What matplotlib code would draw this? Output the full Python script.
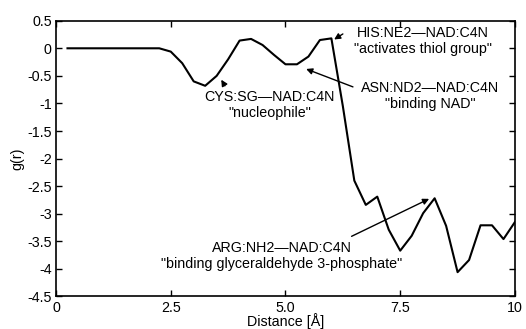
import numpy as np
import matplotlib
matplotlib.use('Agg')
import matplotlib.pyplot as plt

plt.rcParams['font.family'] = ['Liberation Sans', 'DejaVu Sans']

# g(r) curve
distance = [0.25, 0.5, 0.75, 1.0, 1.25, 1.5, 1.75, 2.0, 2.25, 2.5, 2.75, 3.0,
            3.25, 3.5, 3.75, 4.0, 4.25, 4.5, 4.75, 5.0, 5.25, 5.5, 5.75, 6.0,
            6.25, 6.5, 6.75, 7.0, 7.25, 7.5, 7.75, 8.0, 8.25, 8.5, 8.75, 9.0,
            9.25, 9.5, 9.75, 10.0]
g_r = [0, 0, 0, 0, 0, 0, 0, 0, 0, -0.06, -0.27, -0.6,
       -0.68, -0.5, -0.2, 0.14, 0.17, 0.06, -0.12, -0.29, -0.29, -0.15, 0.15, 0.18,
       -1.05, -2.4, -2.84, -2.69, -3.29, -3.67, -3.4, -2.99, -2.72, -3.22, -4.06, -3.84,
       -3.21, -3.21, -3.46, -3.15]

xticks = [0, 2.5, 5.0, 7.5, 10]
xtick_labels = ['0', '2.5', '5.0', '7.5', '10']
yticks = [0.5, 0, -0.5, -1, -1.5, -2, -2.5, -3, -3.5, -4, -4.5]
ytick_labels = ['0.5', '0', '-0.5', '-1', '-1.5', '-2', '-2.5', '-3', '-3.5', '-4', '-4.5']

# annotations: text, text centre, arrow tail, arrow tip
labels = [
    ('CYS:SG\u2014NAD:C4N\n"nucleophile"', (4.66, -1.03), (3.68, -0.68), (3.6, -0.57)),
    ('HIS:NE2\u2014NAD:C4N\n"activates thiol group"', (8.0, 0.13), (6.25, 0.26), (6.06, 0.16)),
    ('ASN:ND2\u2014NAD:C4N\n"binding NAD"', (8.15, -0.87), (6.47, -0.7), (5.45, -0.375)),
    ('ARG:NH2\u2014NAD:C4N\n"binding glyceraldehyde 3-phosphate"', (4.92, -3.77), (6.44, -3.41), (8.13, -2.73)),
]

fig = plt.figure(figsize=(5.26, 3.29), dpi=100)
ax = fig.add_axes([0.1065, 0.099, 0.8725, 0.838])

ax.plot(distance, g_r, color='black', lw=1.5)

ax.set_xlim(0, 10)
ax.set_ylim(-4.5, 0.5)
ax.set_xticks(xticks)
ax.set_xticklabels(xtick_labels)
ax.set_yticks(yticks)
ax.set_yticklabels(ytick_labels)
ax.tick_params(direction='in', length=4, width=1, labelsize=10.3, top=True, right=True, pad=3)
for s in ax.spines.values():
    s.set_linewidth(1.2)

ax.set_xlabel('Distance [Å]', fontsize=10.3, labelpad=-1)
ax.set_ylabel('g(r)', fontsize=10.3, labelpad=2)

for txt, pos, tail, tip in labels:
    ax.text(pos[0], pos[1], txt, ha='center', va='center', fontsize=10.3, linespacing=1.2)
    ax.annotate('', xy=tip, xytext=tail,
                arrowprops=dict(arrowstyle='-|>', color='black', lw=1, mutation_scale=9,
                                shrinkA=0, shrinkB=0))

fig.savefig('out.png', dpi=100)
